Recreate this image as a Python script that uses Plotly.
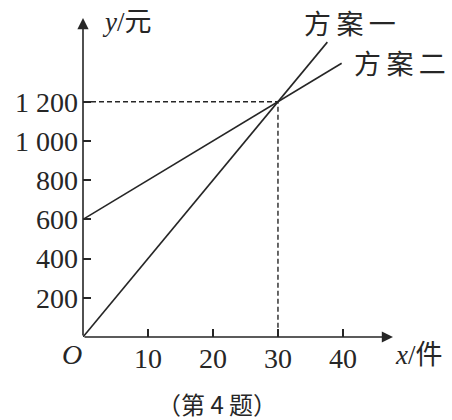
import plotly.graph_objects as go

# data
x_plan1 = [0, 37.6]
y_plan1 = [0, 1504]          # y = 40x
x_plan2 = [0, 39.8]
y_plan2 = [600, 1396]        # y = 600 + 20x
cross_x = 30
cross_y = 1200
x_ticks = [10, 20, 30, 40]
x_tick_text = ["10", "20", "30", "40"]
y_ticks = [200, 400, 600, 800, 1000, 1200]
y_tick_text = ["200", "400", "600", "800", "1 000", "1 200"]

XMAX = 47.7
YMAX = 1627
ink = "#262626"
serif = "Liberation Serif, 'Noto Sans CJK SC', serif"
cjk = "'Noto Sans CJK SC', 'Liberation Serif', serif"

fig = go.Figure()
fig.add_trace(go.Scatter(x=x_plan1, y=y_plan1, mode="lines",
                         line=dict(color=ink, width=1.6), cliponaxis=False))
fig.add_trace(go.Scatter(x=x_plan2, y=y_plan2, mode="lines",
                         line=dict(color=ink, width=1.6), cliponaxis=False))
fig.add_trace(go.Scatter(x=[0, cross_x, cross_x], y=[cross_y, cross_y, 0], mode="lines",
                         line=dict(color=ink, width=1.4, dash="5px,3px"), cliponaxis=False))

axis_common = dict(showgrid=False, zeroline=False, showline=False, ticks="inside",
                   ticklen=8, tickwidth=1.5, tickcolor=ink, automargin=False,
                   tickfont=dict(family=serif, size=28, color=ink))
fig.update_xaxes(range=[0, XMAX], tickvals=x_ticks, ticktext=x_tick_text,
                 ticklabelstandoff=2, **axis_common)
fig.update_yaxes(range=[0, YMAX], tickvals=y_ticks, ticktext=y_tick_text,
                 ticklabelstandoff=4, **axis_common)

# axes with arrows
fig.add_annotation(x=XMAX, y=0, ax=0, ay=0, xref="x", yref="y", axref="x", ayref="y",
                   showarrow=True, arrowhead=2, arrowsize=1.4, arrowwidth=1.6,
                   arrowcolor=ink, text="", standoff=0)
fig.add_annotation(x=0, y=YMAX, ax=0, ay=0, xref="x", yref="y", axref="x", ayref="y",
                   showarrow=True, arrowhead=2, arrowsize=1.4, arrowwidth=1.6,
                   arrowcolor=ink, text="", standoff=0)

def label(x, y, text, size, family=cjk):
    fig.add_annotation(x=x, y=y, xref="paper", yref="paper", text=text, showarrow=False,
                       font=dict(family=family, size=size, color=ink),
                       xanchor="center", yanchor="middle")

ts = "\u2009"
label(0.861, 0.987, ts.join("方案一"), 27)
label(1.023, 0.862, ts.join("方案二"), 27)
label(0.142, 0.987, "<i>y</i>/元", 27, serif)
label(1.084, -0.0564, "<i>x</i>/件", 27, serif)
label(-0.0355, -0.0564, "<i>O</i>", 28, serif)
label(0.432, -0.207, "（第 4 题）", 24)

fig.update_layout(width=452, height=420, showlegend=False,
                  margin=dict(l=83, r=59, t=18, b=83),
                  plot_bgcolor="white", paper_bgcolor="white")
fig.write_html("out.html", config={"displayModeBar": False},
               post_script="document.body.style.margin='0';document.body.style.overflow='hidden';")
